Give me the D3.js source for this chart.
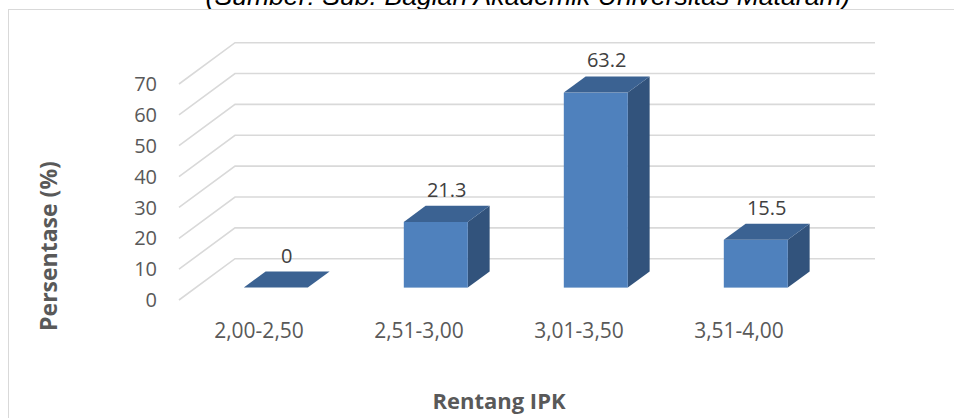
<!DOCTYPE html>
<html>
<head>
<meta charset="utf-8">
<script src="https://cdn.jsdelivr.net/npm/d3@7"></script>
<style>
  html, body { margin: 0; padding: 0; background: #fff; }
  svg { display: block; }
</style>
</head>
<body>
<svg id="chart" width="954" height="418"></svg>
<script>
// IPK (GPA) range distribution, percentage of graduates
const categories = ["2,00-2,50", "2,51-3,00", "3,01-3,50", "3,51-4,00"];
const values = [0, 21.3, 63.2, 15.5];
const yTicks = [0, 10, 20, 30, 40, 50, 60, 70];
const sourceText = "(Sumber: Sub. Bagian Akademik Universitas Mataram)";
const xTitle = "Rentang IPK";
const yTitle = "Persentase (%)";

const svg = d3.select("#chart");

// Front plane of the 3-D box
const x = d3.scaleBand().domain(categories).range([179, 819]).paddingInner(0).paddingOuter(0);
const y = d3.scaleLinear().domain([0, 70]).range([300, 84]);

// Depth vector from the front plane to the back wall
const depth = { dx: 56, dy: -41.3 };
const barZ0 = 0.30, barZ1 = 0.69;     // bar depth extent (fraction of full depth)
const barFrac = 0.4;                   // bar width as a fraction of the band

const colFront = "#4F81BD", colTop = "#3B6292", colSide = "#32537C";
const gridCol = "#D9D9D9", labelCol = "#595959";

// Caption above the chart frame
svg.append("text")
  .attr("x", 528).attr("y", 4.5)
  .attr("text-anchor", "middle")
  .attr("font-family", "'Liberation Sans', Arial, sans-serif")
  .attr("font-style", "italic")
  .attr("font-size", 26.6)
  .attr("fill", "#000")
  .text(sourceText);

// Chart frame
svg.append("rect")
  .attr("x", 8.5).attr("y", 9.5)
  .attr("width", 1000).attr("height", 500)
  .attr("fill", "#fff")
  .attr("stroke", gridCol).attr("stroke-width", 1);

// Gridlines: diagonal on the side wall + horizontal on the back wall
const grid = svg.append("g").attr("fill", "none").attr("stroke", gridCol).attr("stroke-width", 1.6);
const x0 = x.range()[0], x1 = x.range()[1];
yTicks.forEach(v => {
  const yf = y(v), yb = y(v) + depth.dy;
  grid.append("path")
    .attr("d", `M${x0},${yf}L${x0 + depth.dx},${yb}L${x1 + depth.dx},${yb}`);
});

// Y tick labels
svg.append("g").selectAll("text").data(yTicks).join("text")
  .attr("x", 157)
  .attr("y", d => y(d))
  .attr("dy", "0.36em")
  .attr("text-anchor", "end")
  .attr("font-family", "'Open Sans', sans-serif")
  .attr("font-size", 20)
  .attr("fill", labelCol)
  .text(d => d);

// Bars
const bars = svg.append("g");
categories.forEach((c, i) => {
  const v = values[i];
  const bw = x.bandwidth() * barFrac;
  const fx = x(c) + (x.bandwidth() - bw) / 2 + depth.dx * barZ0;
  const fyBase = y(0) + depth.dy * barZ0;
  const fyTop = y(v) + depth.dy * barZ0;
  const ddx = depth.dx * (barZ1 - barZ0), ddy = depth.dy * (barZ1 - barZ0);
  const g = bars.append("g");
  // side face
  if (v > 0) {
    g.append("path")
      .attr("d", `M${fx + bw},${fyTop}L${fx + bw + ddx},${fyTop + ddy}L${fx + bw + ddx},${fyBase + ddy}L${fx + bw},${fyBase}Z`)
      .attr("fill", colSide);
    // front face
    g.append("rect")
      .attr("x", fx).attr("y", fyTop)
      .attr("width", bw).attr("height", fyBase - fyTop)
      .attr("fill", colFront);
  }
  // top face
  g.append("path")
    .attr("d", `M${fx},${fyTop}L${fx + ddx},${fyTop + ddy}L${fx + bw + ddx},${fyTop + ddy}L${fx + bw},${fyTop}Z`)
    .attr("fill", colTop);
  // value label
  g.append("text")
    .attr("x", fx + bw / 2 + ddx / 2)
    .attr("y", fyTop + ddy - 9)
    .attr("text-anchor", "middle")
    .attr("font-family", "'Open Sans', sans-serif")
    .attr("font-size", 20)
    .attr("fill", "#404040")
    .text(v);
});

// Category labels
svg.append("g").selectAll("text").data(categories).join("text")
  .attr("x", d => x(d) + x.bandwidth() / 2)
  .attr("y", 338)
  .attr("text-anchor", "middle")
  .attr("font-family", "'Open Sans', sans-serif")
  .attr("font-size", 21)
  .attr("fill", labelCol)
  .text(d => d);

// Axis titles
svg.append("text")
  .attr("x", 499).attr("y", 409)
  .attr("text-anchor", "middle")
  .attr("font-family", "'Open Sans', sans-serif")
  .attr("font-weight", "bold")
  .attr("font-size", 22)
  .attr("fill", labelCol)
  .text(xTitle);

svg.append("text")
  .attr("transform", "translate(57,246) rotate(-90)")
  .attr("text-anchor", "middle")
  .attr("font-family", "'Open Sans', sans-serif")
  .attr("font-weight", "bold")
  .attr("font-size", 23)
  .attr("fill", labelCol)
  .text(yTitle);
</script>
</body>
</html>
